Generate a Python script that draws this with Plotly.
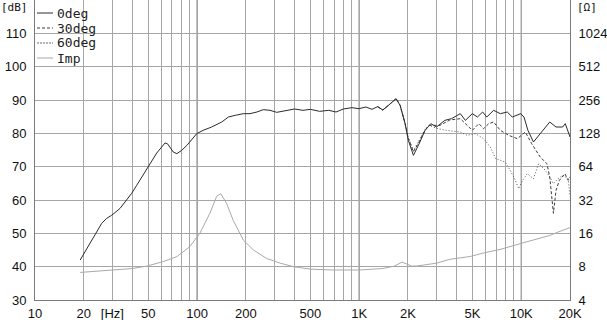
import math
import plotly.graph_objects as go

# ---------------- data ----------------
freq_0 = [19, 20.4, 22.4, 24, 25.8, 27.7, 29.7, 33.5, 36.8, 39.5, 42.4, 45.5, 48.9, 52.5, 56.4,
          60.5, 63.4, 65.6, 68.1, 71.3, 75, 80.4, 86.6, 92.9, 99.5, 109, 123, 142, 156, 172,
          193, 212, 234, 256, 282, 310, 350, 400, 450, 500, 570, 650, 720, 800, 900, 1000,
          1100, 1200, 1300, 1400, 1500, 1600, 1690, 1790, 1923, 2011, 2162, 2320, 2553, 2770,
          3002, 3380, 3715, 4210, 4524, 4990, 5370, 5780, 6130, 6760, 7430, 8200, 8810, 9930,
          10400, 11000, 11900, 13100, 15000, 16400, 18000, 18700, 20000]
spl_0 = [42.0, 44.5, 48.0, 50.4, 53.0, 54.5, 55.4, 57.5, 60.0, 62.0, 64.4, 66.9, 69.4, 71.9, 74.1,
         75.9, 77.1, 76.9, 75.9, 74.4, 73.9, 74.9, 76.4, 78.1, 79.9, 80.9, 81.9, 83.4, 84.9, 85.4,
         85.9, 85.9, 86.4, 87.1, 86.9, 86.3, 86.8, 87.3, 86.9, 87.2, 86.6, 86.9, 86.4, 87.3, 87.7, 87.4,
         87.9, 87.2, 88.0, 87.0, 88.2, 89.5, 90.4, 88.4, 82.9, 77.9, 73.4, 76.4, 80.9, 82.9,
         81.9, 83.9, 84.4, 85.9, 83.9, 85.9, 84.9, 86.4, 84.9, 86.9, 85.9, 86.4, 84.9, 85.9,
         84.9, 80.9, 77.4, 79.9, 83.4, 81.9, 81.9, 82.9, 78.9]

freq_30 = [1300, 1400, 1500, 1600, 1690, 1790, 1923, 2011, 2162, 2320, 2553, 2700, 3150, 3630,
           4210, 4640, 4990, 5480, 5860, 6300, 6760, 7430, 8380, 9460, 10600, 11600, 13100,
           14400, 15000, 15800, 16400, 17200, 18600, 19500, 20000]
spl_30 = [88.0, 87.0, 88.2, 89.5, 90.4, 88.4, 82.9, 78.5, 74.5, 77.0, 81.0, 82.4, 82.4, 84.0,
          84.4, 82.4, 80.9, 82.9, 81.4, 82.9, 83.4, 80.9, 79.4, 78.4, 80.4, 76.9, 72.9,
          70.9, 66.9, 56.0, 62.9, 65.9, 67.9, 65.9, 66.9]

freq_60 = [1300, 1400, 1500, 1600, 1690, 1790, 1923, 2011, 2162, 2320, 2553, 2700, 3000, 3460,
           4210, 4640, 5210, 5860, 6450, 6960, 7430, 7960, 8560, 9200, 9640, 10200, 10900,
           11900, 12800, 13800, 14800, 15800, 16900, 18000, 19500, 20000]
spl_60 = [88.0, 87.0, 88.2, 89.5, 90.4, 88.4, 83.0, 78.8, 74.8, 77.5, 81.2, 82.4, 81.5, 80.9,
          80.4, 79.4, 79.9, 78.4, 75.9, 72.4, 71.9, 71.4, 68.9, 65.9, 63.4, 65.9, 67.9,
          66.4, 70.9, 69.4, 67.4, 64.9, 66.4, 67.4, 66.4, 61.0]

freq_imp = [19, 30, 40, 49, 62, 75, 90, 104, 120, 132, 140, 152, 167, 193, 223, 268, 326, 393,
            500, 694, 1000, 1400, 1650, 1840, 2110, 2250, 3000, 3600, 4870, 5800, 7500, 10400,
            13000, 15000, 17000, 20000]
imp_ohm = [7.1, 7.4, 7.7, 8.1, 8.9, 9.85, 12.1, 16.0, 24.3, 34.5, 36.5, 29.9, 21.0, 13.9, 11.3,
           9.5, 8.6, 8.0, 7.6, 7.46, 7.46, 7.7, 8.1, 8.8, 8.1, 8.1, 8.6, 9.3, 9.9, 10.6, 11.5, 13.2,
           14.5, 15.3, 16.5, 18.0]

grid_freqs = [10, 20, 30, 40, 50, 60, 70, 80, 90, 100, 200, 300, 400, 500, 600, 700, 800, 900,
              1000, 2000, 3000, 4000, 5000, 6000, 7000, 8000, 9000, 10000, 20000]
grid_labels = ["10", "20", "[Hz]", "", "50", "", "", "", "", "100", "200", "", "", "500", "", "",
               "", "", "1K", "2K", "", "", "5K", "", "", "", "", "10K", "20K"]
db_ticks = [30, 40, 50, 60, 70, 80, 90, 100, 110]
ohm_ticks = [4, 8, 16, 32, 64, 128, 256, 512, 1024]
decade_lines = [100, 1000, 10000]

legend_names = ["0deg", "30deg", "60deg", "Imp"]

# ---------------- figure ----------------
W, H = 607, 320
ML, MR, MT, MB = 35, 37, 0, 20
pw, ph = W - ML - MR, H - MT - MB

c0, c30, c60, cimp = "#2b2b2b", "#3a3a3a", "#555555", "#a9a9a9"

fig = go.Figure()
fig.add_trace(go.Scatter(x=freq_imp, y=imp_ohm, yaxis="y2", mode="lines",
                         line=dict(color=cimp, width=1), name="Imp"))
fig.add_trace(go.Scatter(x=freq_60, y=spl_60, mode="lines",
                         line=dict(color=c60, width=1, dash="1px,2px"), name="60deg"))
fig.add_trace(go.Scatter(x=freq_30, y=spl_30, mode="lines",
                         line=dict(color=c30, width=1, dash="3px,2px"), name="30deg"))
fig.add_trace(go.Scatter(x=freq_0, y=spl_0, mode="lines",
                         line=dict(color=c0, width=1), name="0deg"))

tickfont = dict(family="Liberation Sans", size=13, color="#111111")
fig.update_layout(
    width=W, height=H,
    margin=dict(l=ML, r=MR, t=MT, b=MB, pad=0),
    paper_bgcolor="white", plot_bgcolor="white",
    showlegend=False,
    xaxis=dict(type="log", range=[1, math.log10(20000)], tickvals=grid_freqs, ticktext=grid_labels,
               showgrid=True, gridcolor="#a6a6a6", gridwidth=1, zeroline=False,
               showline=True, linecolor="#7a7a7a", linewidth=1,
               ticks="outside", ticklen=1, tickcolor="rgba(0,0,0,0)", tickfont=tickfont),
    yaxis=dict(range=[30, 120], tickvals=db_ticks, showgrid=True, gridcolor="#a6a6a6", gridwidth=1,
               zeroline=False, showline=True, linecolor="#7a7a7a", linewidth=1,
               ticks="outside", ticklen=5, tickcolor="rgba(0,0,0,0)", tickfont=tickfont),
    yaxis2=dict(type="log", range=[math.log10(4), math.log10(2048)], overlaying="y", side="right",
                tickvals=ohm_ticks, ticktext=[str(v) for v in ohm_ticks], showgrid=False,
                zeroline=False, showline=True, linecolor="#7a7a7a", linewidth=1,
                ticks="outside", ticklen=5, tickcolor="rgba(0,0,0,0)", tickfont=tickfont),
)

shapes = []
for f in decade_lines:
    shapes.append(dict(type="line", xref="x", yref="paper", x0=f, x1=f, y0=0, y1=1,
                       line=dict(color="#6a6a6a", width=1), layer="below"))

def px_x(p):
    return (p - ML) / pw

def px_y(p):
    return 1 - (p - MT) / ph

# legend box (white background hiding grid)
shapes.append(dict(type="rect", xref="paper", yref="paper", x0=px_x(36), x1=px_x(98),
                   y0=px_y(65), y1=px_y(4), fillcolor="white", line=dict(width=0), layer="below"))
leg_styles = [dict(color=c0, width=1), dict(color=c30, width=1, dash="3px,2px"),
              dict(color="#b5b5b5", width=2, dash="2px,1px"), dict(color=cimp, width=1)]
annotations = []
for i, (name, st) in enumerate(zip(legend_names, leg_styles)):
    yc = 13 + 15 * i
    shapes.append(dict(type="line", xref="paper", yref="paper", x0=px_x(37), x1=px_x(53),
                       y0=px_y(yc), y1=px_y(yc), line=st, layer="above"))
    annotations.append(dict(xref="paper", yref="paper", x=px_x(55), y=px_y(yc), text=name,
                            showarrow=False, xanchor="left", yanchor="middle",
                            font=dict(family="DejaVu Sans Mono", size=13, color="#222222")))

annotations.append(dict(xref="paper", yref="paper", x=px_x(30), y=px_y(8), text="[dB]",
                        showarrow=False, xanchor="right", yanchor="middle",
                        font=dict(family="DejaVu Sans Mono", size=11, color="#111111")))
annotations.append(dict(xref="paper", yref="paper", x=px_x(575), y=px_y(8), text="[Ω]",
                        showarrow=False, xanchor="left", yanchor="middle",
                        font=dict(family="DejaVu Sans Mono", size=11, color="#111111")))

fig.update_layout(shapes=shapes, annotations=annotations)
fig.write_html("out.html")
